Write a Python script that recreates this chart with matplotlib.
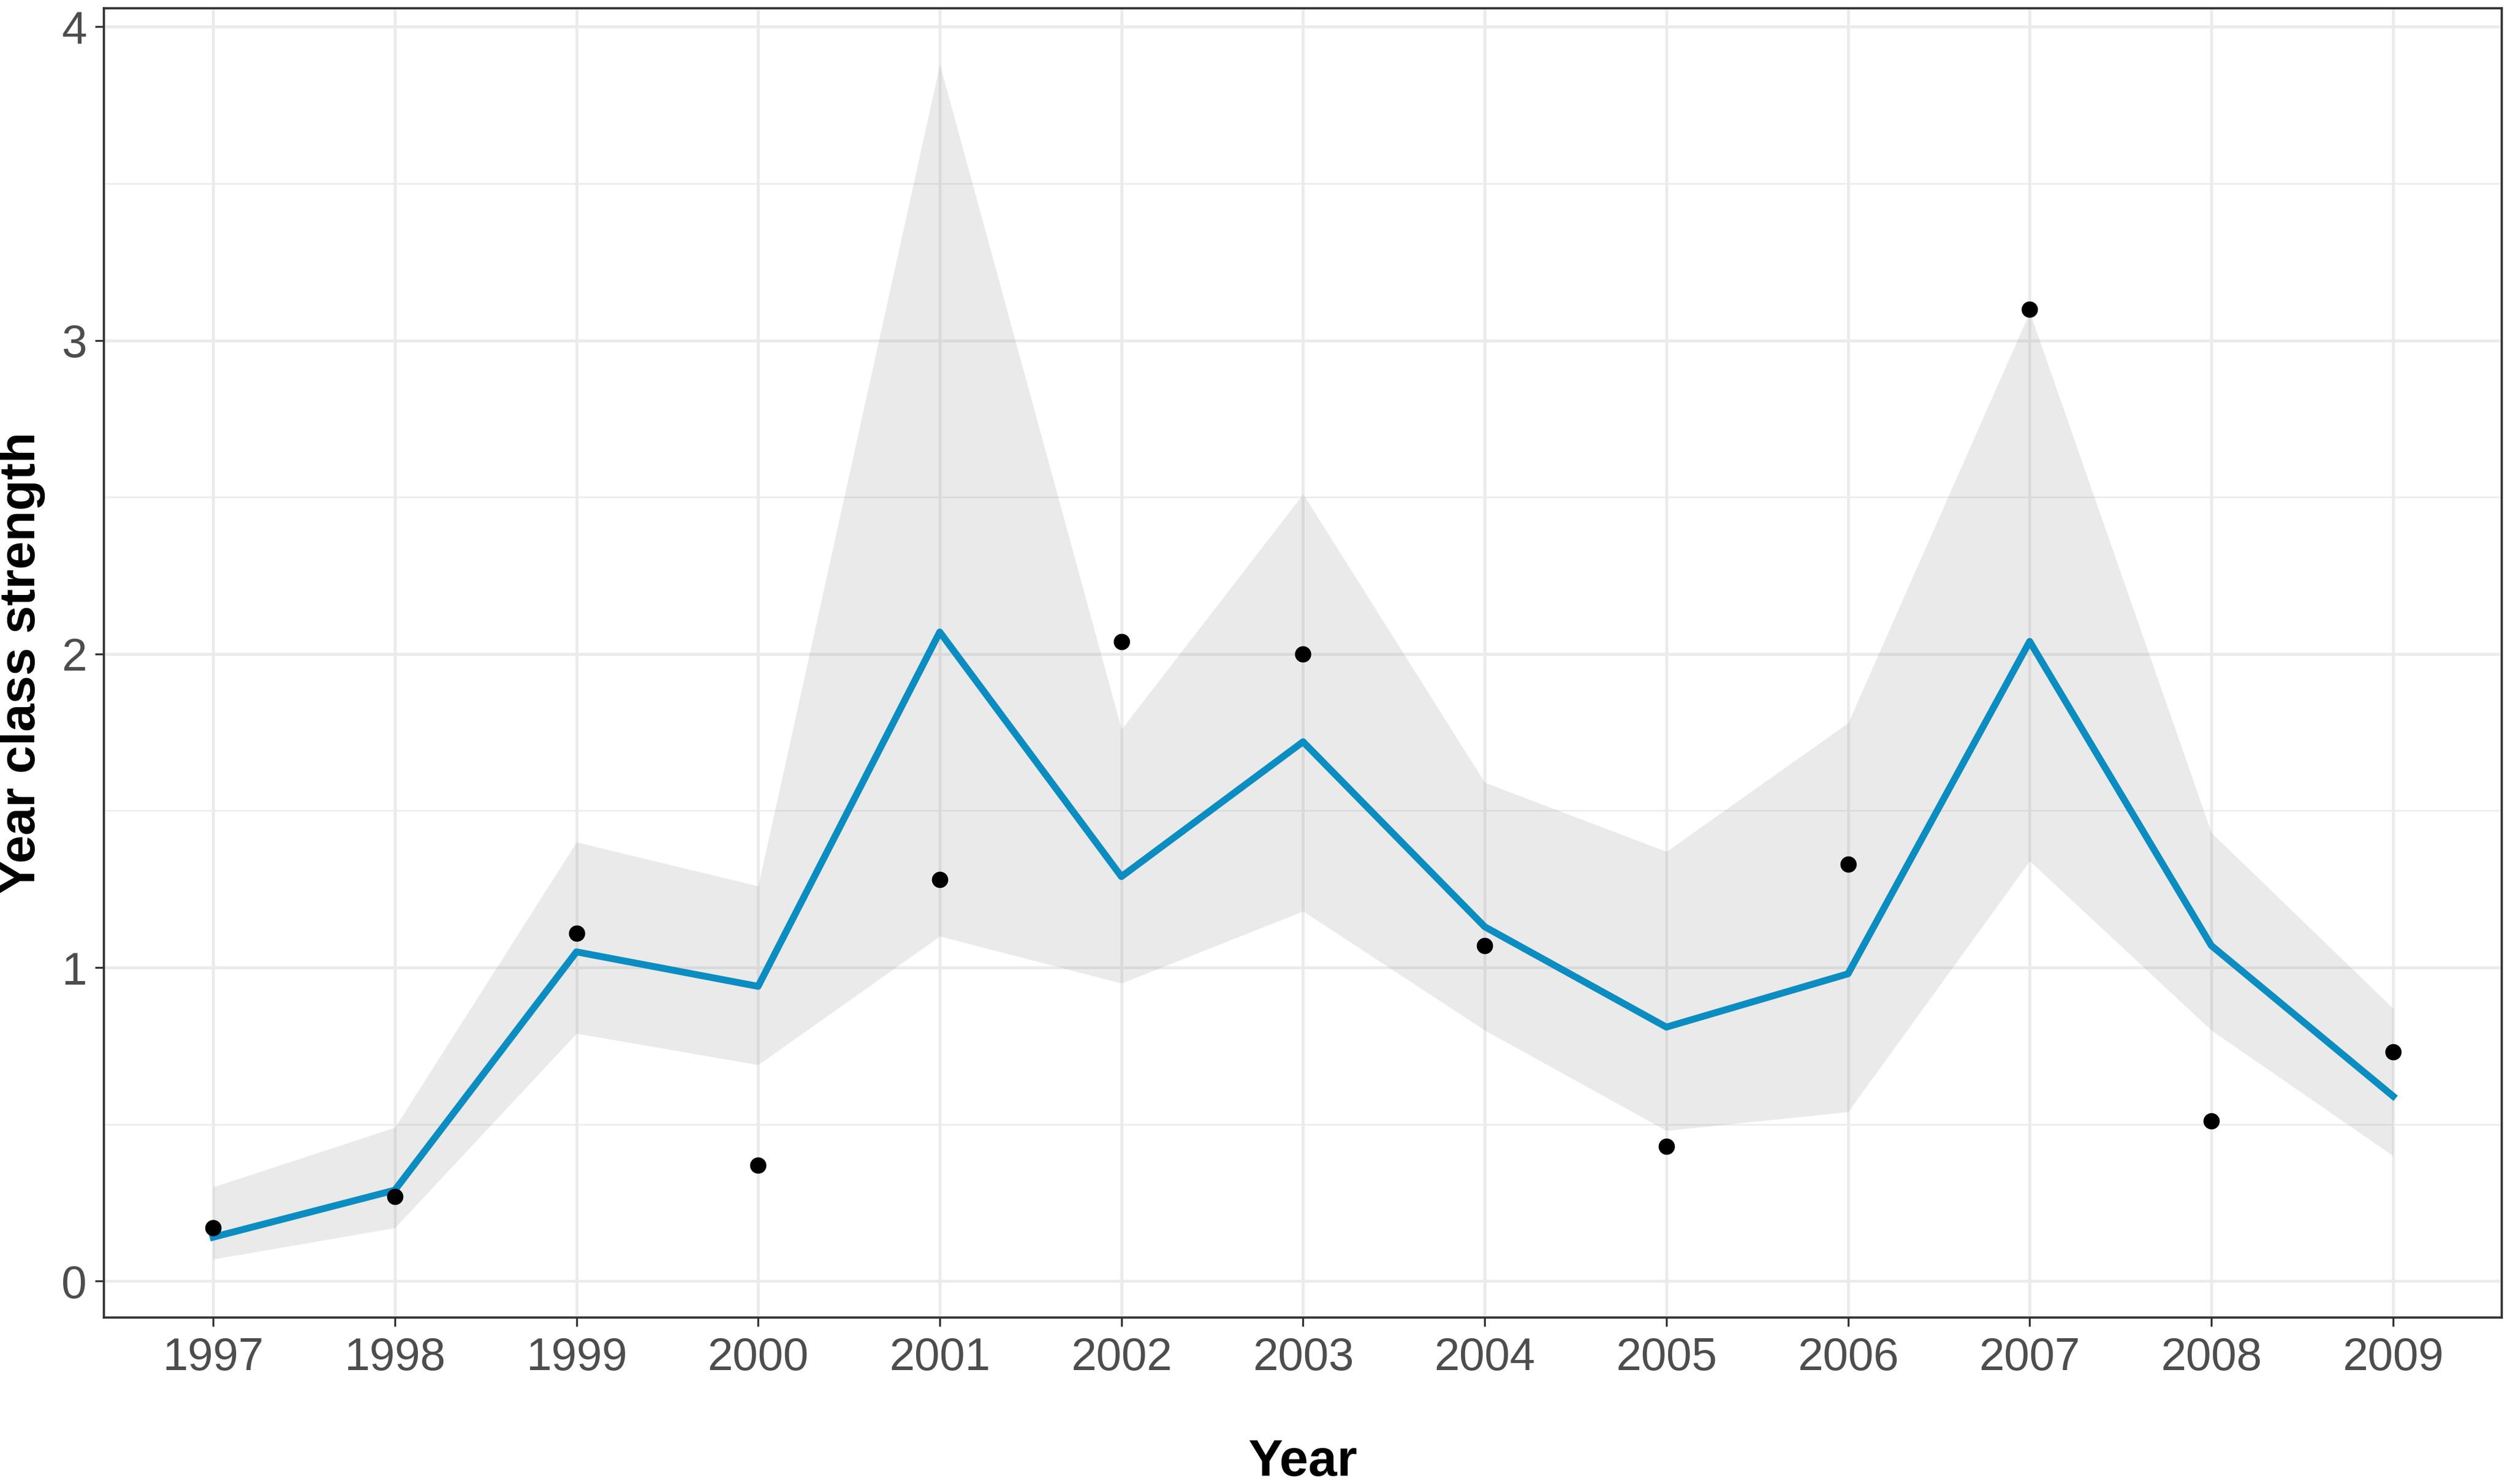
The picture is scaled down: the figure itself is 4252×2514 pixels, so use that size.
import numpy as np
from matplotlib import pyplot as plt

plt.rcParams['font.family'] = ['Liberation Sans', 'DejaVu Sans']

# data
years = [1997, 1998, 1999, 2000, 2001, 2002, 2003, 2004, 2005, 2006, 2007, 2008, 2009]
observed = [0.17, 0.27, 1.11, 0.37, 1.28, 2.04, 2.00, 1.07, 0.43, 1.33, 3.10, 0.51, 0.73]
fitted = [0.14, 0.29, 1.05, 0.94, 2.07, 1.29, 1.72, 1.13, 0.81, 0.98, 2.04, 1.07, 0.59]
upper = [0.30, 0.49, 1.40, 1.26, 3.88, 1.76, 2.51, 1.59, 1.37, 1.78, 3.09, 1.43, 0.87]
lower = [0.07, 0.17, 0.79, 0.69, 1.10, 0.95, 1.18, 0.80, 0.48, 0.54, 1.34, 0.80, 0.40]
y_ticks = [0, 1, 2, 3, 4]

fig = plt.figure(figsize=(4252 / 300, 2514 / 300), dpi=300)
ax = fig.add_axes([0.0415, 0.112, 0.9553, 0.8826])

x = np.arange(len(years))

# grid (theme_bw look)
for v in np.arange(0.5, 4.0, 1.0):
    ax.axhline(v, color='#EBEBEB', lw=0.6, zorder=0)
for v in y_ticks:
    ax.axhline(v, color='#EBEBEB', lw=1.2, zorder=0)
for v in x:
    ax.axvline(v, color='#EBEBEB', lw=1.2, zorder=0)

ax.fill_between(x, lower, upper, color='#999999', alpha=0.2, lw=0, zorder=1)
ax.plot(x, fitted, color='#0B8DC1', lw=2.8, zorder=2)
ax.scatter(x, observed, s=44, color='black', zorder=3, lw=0)

ax.set_xlim(-0.6, len(years) - 0.4)
ax.set_ylim(-0.117, 4.06)
ax.set_xticks(x)
ax.set_xticklabels([str(y) for y in years])
ax.set_yticks(y_ticks)

ax.tick_params(axis='both', length=3.5, width=0.8, color='#333333',
               labelsize=18.5, labelcolor='#4D4D4D')
ax.tick_params(axis='x', pad=4)
for s in ax.spines.values():
    s.set_color('#333333')
    s.set_linewidth(0.9)

ax.set_xlabel('Year', fontsize=21, fontweight='bold', labelpad=24)
ax.set_ylabel('Year class strength', fontsize=20.5, fontweight='bold')
ax.yaxis.set_label_coords(-0.0245, 0.5)

fig.savefig('out.png', dpi=300)
